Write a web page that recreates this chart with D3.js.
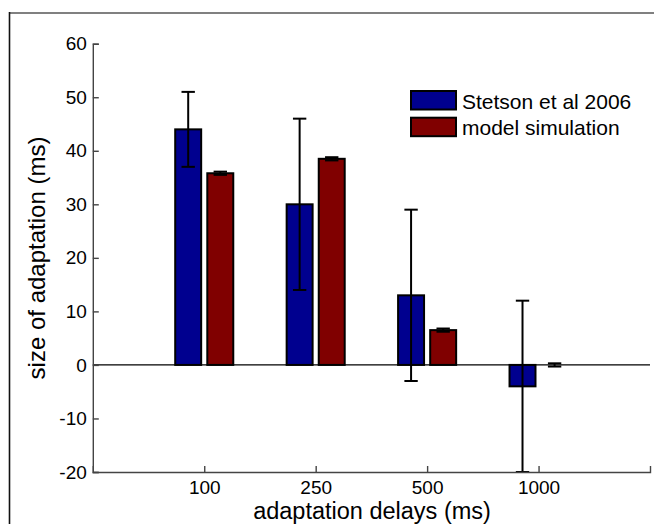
<!DOCTYPE html>
<html>
<head>
<meta charset="utf-8">
<script src="https://cdn.jsdelivr.net/npm/d3@7"></script>
<style>
  html, body { margin: 0; padding: 0; background: #fff; }
  svg { display: block; font-family: "Liberation Sans", Arial, Helvetica, sans-serif; }
</style>
</head>
<body>
<svg id="chart" width="654" height="524"></svg>
<script>
// Adaptation delays (ms) and size of adaptation (ms) per series
const categories = ["100", "250", "500", "1000"];
const seriesNames = ["Stetson et al 2006", "model simulation"];
const stetson = [44, 30, 13, -4];
const stetsonErr = [7, 16, 16, 16];
const model = [35.8, 38.5, 6.5, 0];
const modelErr = [0.3, 0.3, 0.3, 0.3];
const yTicks = [-20, -10, 0, 10, 20, 30, 40, 50, 60];

const colors = ["#00008f", "#800000"];

const svg = d3.select("#chart");
const W = 654, H = 524;

// figure frame
svg.append("line").attr("x1", 9).attr("x2", W).attr("y1", 13).attr("y2", 13)
  .attr("stroke", "#808080").attr("stroke-width", 2);
svg.append("line").attr("x1", 9.5).attr("x2", 9.5).attr("y1", 12).attr("y2", H)
  .attr("stroke", "#111").attr("stroke-width", 1.6);

const x = d3.scaleLinear().domain([0, 5]).range([92.8, 650]);
const y = d3.scaleLinear().domain([-20, 60]).range([472, 43.7]);

const groupOffset = 0.144;   // bar centre offset from group centre, in x units
const barWidth = 0.233;
const capWidth = 0.12;

const series = [
  { name: seriesNames[0], values: stetson, err: stetsonErr, color: colors[0], dx: -groupOffset },
  { name: seriesNames[1], values: model, err: modelErr, color: colors[1], dx: groupOffset }
];

// bars
const bw = x(barWidth) - x(0);
series.forEach(s => {
  svg.append("g").selectAll("rect").data(s.values).join("rect")
    .attr("x", (d, i) => x(i + 1 + s.dx) - bw / 2)
    .attr("width", bw)
    .attr("y", d => Math.min(y(d), y(0)))
    .attr("height", d => Math.abs(y(d) - y(0)))
    .attr("fill", s.color)
    .attr("stroke", "#000")
    .attr("stroke-width", 2);
});

// zero baseline
svg.append("line").attr("x1", x(0)).attr("x2", x(5)).attr("y1", y(0)).attr("y2", y(0))
  .attr("stroke", "#000").attr("stroke-width", 1.2);

// error bars
const cw = x(capWidth) - x(0);
series.forEach(s => {
  const g = svg.append("g").attr("stroke", "#000").attr("stroke-width", 2);
  s.values.forEach((v, i) => {
    const cx = x(i + 1 + s.dx);
    const hi = y(v + s.err[i]), lo = y(v - s.err[i]);
    g.append("line").attr("x1", cx).attr("x2", cx).attr("y1", hi).attr("y2", lo);
    g.append("line").attr("x1", cx - cw / 2).attr("x2", cx + cw / 2).attr("y1", hi).attr("y2", hi);
    g.append("line").attr("x1", cx - cw / 2).attr("x2", cx + cw / 2).attr("y1", lo).attr("y2", lo);
  });
});

// axes
const axisColor = "#444";
const yAxis = svg.append("g").attr("transform", `translate(${x(0)},0)`)
  .call(d3.axisLeft(y).tickValues(yTicks).tickFormat(d => String(d))
    .tickSizeInner(-6).tickSizeOuter(-6).tickPadding(6));
const xAxis = svg.append("g").attr("transform", `translate(0,${y(-20)})`)
  .call(d3.axisBottom(x).tickValues([1, 2, 3, 4]).tickFormat((d, i) => categories[i])
    .tickSizeInner(-6).tickSizeOuter(-6).tickPadding(8.5));
[yAxis, xAxis].forEach(a => {
  a.selectAll("path, line").attr("stroke", axisColor).attr("stroke-width", 1.4);
  a.selectAll("text").attr("fill", "#000").style("font-size", "19px")
    .style("font-family", '"Liberation Sans", Arial, sans-serif');
});

// axis titles
svg.append("text").attr("x", 372).attr("y", 518.5).attr("text-anchor", "middle")
  .style("font-size", "23.5px").attr("fill", "#000").text("adaptation delays (ms)");
svg.append("text").attr("transform", `translate(45,258) rotate(-90)`).attr("text-anchor", "middle")
  .style("font-size", "24px").attr("fill", "#000").text("size of adaptation (ms)");

// legend
const legend = svg.append("g");
series.forEach((s, i) => {
  const ly = 90 + i * 26.7;
  legend.append("rect").attr("x", 411).attr("y", ly + 1).attr("width", 45).attr("height", 18.5)
    .attr("fill", s.color).attr("stroke", "#000").attr("stroke-width", 2);
  legend.append("text").attr("x", 462).attr("y", ly + 18.5)
    .style("font-size", "21px").attr("fill", "#000").text(s.name);
});
</script>
</body>
</html>
